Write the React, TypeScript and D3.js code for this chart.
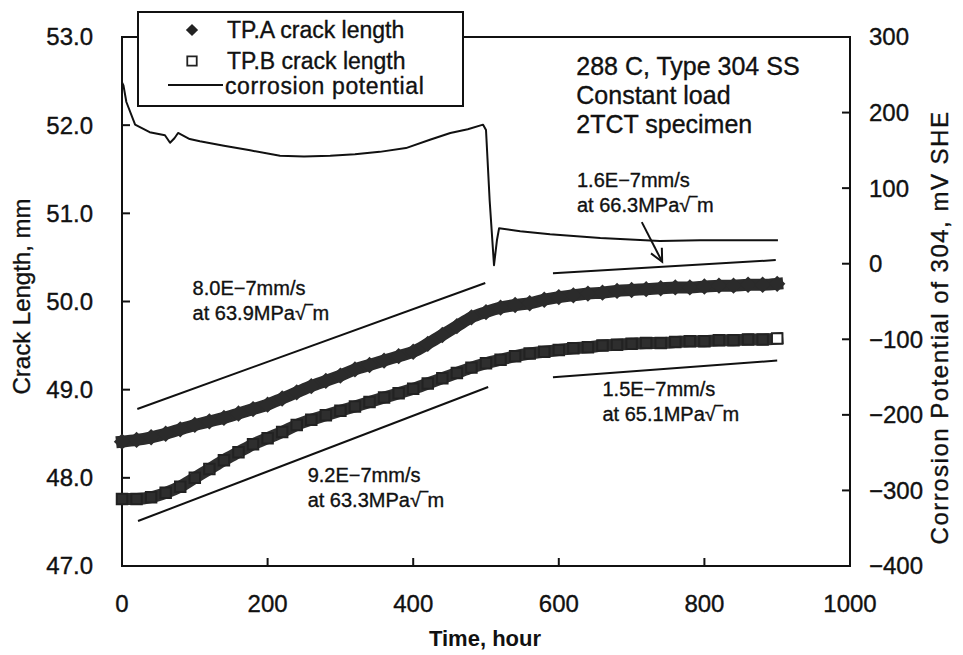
import { useMemo } from "react";
import * as d3 from "d3";

const WIDTH = 963;
const HEIGHT = 655;
const MARGIN = { top: 37, right: 113, bottom: 89, left: 122 };

// sampling times (hour) of the crack length records
const hours = [
  0, 20, 40, 60, 80, 100, 120, 140, 160, 180, 200, 220, 240, 260, 280, 300,
  320, 340, 360, 380, 400, 420, 440, 460, 480, 500, 520, 540, 560, 580, 600,
  620, 640, 660, 680, 700, 720, 740, 760, 780, 800, 820, 840, 860, 880, 900,
];
// TP.A crack length, mm
const tpA = [
  48.41, 48.43, 48.46, 48.5, 48.55, 48.6, 48.64, 48.68, 48.73, 48.78, 48.83,
  48.9, 48.97, 49.04, 49.1, 49.16, 49.23, 49.28, 49.33, 49.38, 49.43, 49.52,
  49.62, 49.72, 49.82, 49.88, 49.93, 49.96, 49.98, 50.02, 50.05, 50.07, 50.09,
  50.1, 50.12, 50.13, 50.14, 50.15, 50.16, 50.16, 50.17, 50.18, 50.18, 50.19,
  50.19, 50.2,
];
// TP.B crack length, mm
const tpB = [
  47.76, 47.76, 47.78, 47.83, 47.9, 48.0, 48.1, 48.2, 48.29, 48.38, 48.45,
  48.52, 48.6, 48.66, 48.71, 48.76, 48.81, 48.86, 48.91, 48.96, 49.01, 49.07,
  49.13, 49.19, 49.25, 49.3, 49.34, 49.38, 49.41, 49.43, 49.45, 49.47, 49.48,
  49.5, 49.51, 49.52, 49.53, 49.53, 49.54, 49.55, 49.55, 49.56, 49.56, 49.57,
  49.57, 49.58,
];
// corrosion potential, mV SHE
const potHours = [
  0, 2, 6, 18, 38, 59, 66, 72, 77, 93, 107, 140, 176, 217, 250, 286, 320, 354,
  390, 423, 451, 475, 496, 500, 505, 511, 515, 518, 547, 588, 657, 739, 794,
  850, 901,
];
const potMv = [
  240, 236, 214, 184, 174, 170, 160, 166, 173, 165, 162, 156, 150, 143, 142,
  143, 145, 148, 153, 164, 173, 178, 184, 177, 84, -2, 31, 47, 43, 39, 34, 30,
  31, 31, 31,
];

const xTicks = [0, 200, 400, 600, 800, 1000];
const leftTicks = [47, 48, 49, 50, 51, 52, 53];
const rightTicks = [-400, -300, -200, -100, 0, 100, 200, 300];

// fitted growth-rate lines [hour, mm] -> [hour, mm]
const rateLines = [
  [[21, 48.78], [499, 50.21]],
  [[22, 47.51], [503, 49.03]],
  [[592, 50.32], [898, 50.47]],
  [[592, 49.14], [900, 49.33]],
];
const rateLabels = [
  { at: [97, 50.07], lines: ["8.0E−7mm/s", "at 63.9MPa√‾m"] },
  { at: [255, 47.95], lines: ["9.2E−7mm/s", "at 63.3MPa√‾m"] },
  { at: [625, 51.3], lines: ["1.6E−7mm/s", "at 66.3MPa√‾m"] },
  { at: [660, 48.93], lines: ["1.5E−7mm/s", "at 65.1MPa√‾m"] },
];
const arrow = [[714, 50.9], [742, 50.45]];

const infoLines = ["288 C, Type 304 SS", "Constant load", "2TCT specimen"];

const FONT = "Liberation Sans, Arial, sans-serif";

export default function App() {
  const bw = WIDTH - MARGIN.left - MARGIN.right;
  const bh = HEIGHT - MARGIN.top - MARGIN.bottom;

  const x = useMemo(() => d3.scaleLinear().domain([0, 1000]).range([0, bw]), [bw]);
  const y = useMemo(() => d3.scaleLinear().domain([47, 53]).range([bh, 0]), [bh]);
  const y2 = useMemo(() => d3.scaleLinear().domain([-400, 300]).range([bh, 0]), [bh]);

  const lenLine = d3
    .line<number>()
    .x((_, i) => x(hours[i]))
    .y((d) => y(d))
    .curve(d3.curveMonotoneX);

  const potLine = d3
    .line<number>()
    .x((_, i) => x(potHours[i]))
    .y((d) => y2(d));

  const diamond = d3.symbol(d3.symbolDiamond2, 170)();
  const square = d3.symbol(d3.symbolSquare, 110)();

  const [a0, a1] = arrow;
  const ax = x(a1[0]), ay = y(a1[1]);
  const ang = Math.atan2(y(a1[1]) - y(a0[1]), x(a1[0]) - x(a0[0]));
  const head = (s: number) =>
    `${ax - 14 * Math.cos(ang + s)},${ay - 14 * Math.sin(ang + s)}`;

  const ink = { fill: "#111", stroke: "#111", strokeWidth: 0.35 };

  return (
    <svg
      width={WIDTH}
      height={HEIGHT}
      style={{ position: "absolute", left: 0, top: 0, background: "#fff" }}
      fontFamily={FONT}
    >
      <g transform={`translate(${MARGIN.left},${MARGIN.top})`}>
        {/* frame */}
        <rect x={0} y={0} width={bw} height={bh} fill="none" stroke="#111" strokeWidth={2} />

        {/* bottom ticks + labels */}
        {xTicks.map((t) => (
          <g key={t} transform={`translate(${x(t)},${bh})`}>
            {t > 0 && t < 1000 && <line y2={-8} stroke="#111" strokeWidth={2} />}
            <text y={46} textAnchor="middle" fontSize={24} {...ink}>
              {t}
            </text>
          </g>
        ))}
        {/* left ticks + labels */}
        {leftTicks.map((t) => (
          <g key={t} transform={`translate(0,${y(t)})`}>
            {t > 47 && t < 53 && <line x2={8} stroke="#111" strokeWidth={2} />}
            <text x={-29} dy="0.35em" textAnchor="end" fontSize={24} {...ink}>
              {d3.format(".1f")(t)}
            </text>
          </g>
        ))}
        {/* right ticks + labels */}
        {rightTicks.map((t) => (
          <g key={t} transform={`translate(${bw},${y2(t)})`}>
            {t > -400 && t < 300 && <line x2={-8} stroke="#111" strokeWidth={2} />}
            <text x={19} dy="0.35em" textAnchor="start" fontSize={24} {...ink}>
              {d3.format("")(t)}
            </text>
          </g>
        ))}

        {/* corrosion potential */}
        <path d={potLine(potMv) ?? ""} fill="none" stroke="#111" strokeWidth={2} strokeLinejoin="round" />

        {/* TP.A band */}
        <path d={lenLine(tpA) ?? ""} fill="none" stroke="#2b2b2b" strokeWidth={12} strokeLinecap="square" />
        {tpA.map((v, i) => (
          <path key={i} d={diamond} transform={`translate(${x(hours[i])},${y(v)})`} fill="#2b2b2b" />
        ))}

        {/* TP.B band */}
        <path d={lenLine(tpB) ?? ""} fill="none" stroke="#2e2e2e" strokeWidth={12} strokeLinecap="square" />
        {tpB.map((v, i) => (
          <path
            key={i}
            d={square}
            transform={`translate(${x(hours[i])},${y(v)})`}
            fill={i === tpB.length - 1 ? "#fff" : "none"}
            stroke="#222"
            strokeWidth={2}
          />
        ))}

        {/* rate lines */}
        {rateLines.map(([p0, p1], i) => (
          <line
            key={i}
            x1={x(p0[0])}
            y1={y(p0[1])}
            x2={x(p1[0])}
            y2={y(p1[1])}
            stroke="#111"
            strokeWidth={2}
          />
        ))}
        {rateLabels.map((r, i) => (
          <text key={i} x={x(r.at[0])} y={y(r.at[1])} fontSize={20} {...ink}>
            {r.lines.map((l, j) => (
              <tspan key={j} x={x(r.at[0])} dy={j === 0 ? 0 : 25}>
                {l}
              </tspan>
            ))}
          </text>
        ))}
        <line x1={x(a0[0])} y1={y(a0[1])} x2={ax} y2={ay} stroke="#111" strokeWidth={2} />
        <polyline points={`${head(0.45)} ${ax},${ay} ${head(-0.45)}`} fill="none" stroke="#111" strokeWidth={2} />

        {/* specimen info */}
        <text x={x(624)} y={38} fontSize={25} {...ink}>
          {infoLines.map((l, j) => (
            <tspan key={j} x={x(624)} dy={j === 0 ? 0 : 29}>
              {l}
            </tspan>
          ))}
        </text>
      </g>

      {/* legend */}
      <g transform="translate(138,12)">
        <rect width={325} height={94} fill="#fff" stroke="#111" strokeWidth={2} />
        <path d={diamond} transform="translate(54,18) scale(0.75)" fill="#222" />
        <text x={89} y={26} fontSize={23} {...ink}>TP.A crack length</text>
        <path d={square} transform="translate(54,49) scale(0.9)" fill="#fff" stroke="#222" strokeWidth={2} />
        <text x={89} y={57} fontSize={23} {...ink}>TP.B crack length</text>
        <line x1={30} x2={85} y1={73} y2={73} stroke="#111" strokeWidth={2} />
        <text x={87} y={82} fontSize={23} letterSpacing={0.6} {...ink}>corrosion potential</text>
      </g>

      {/* axis titles */}
      <text
        transform={`translate(30,${MARGIN.top + bh / 2 - 5}) rotate(-90)`}
        textAnchor="middle"
        fontSize={24}
        {...ink}
      >
        Crack Length, mm
      </text>
      <text
        transform={`translate(948,${MARGIN.top + bh / 2 + 26}) rotate(-90)`}
        textAnchor="middle"
        fontSize={24}
        letterSpacing={1.5}
        {...ink}
      >
        Corrosion Potential of 304, mV SHE
      </text>
      <text x={485} y={646} textAnchor="middle" fontSize={22} fontWeight="bold" fill="#111">
        Time, hour
      </text>
    </svg>
  );
}
